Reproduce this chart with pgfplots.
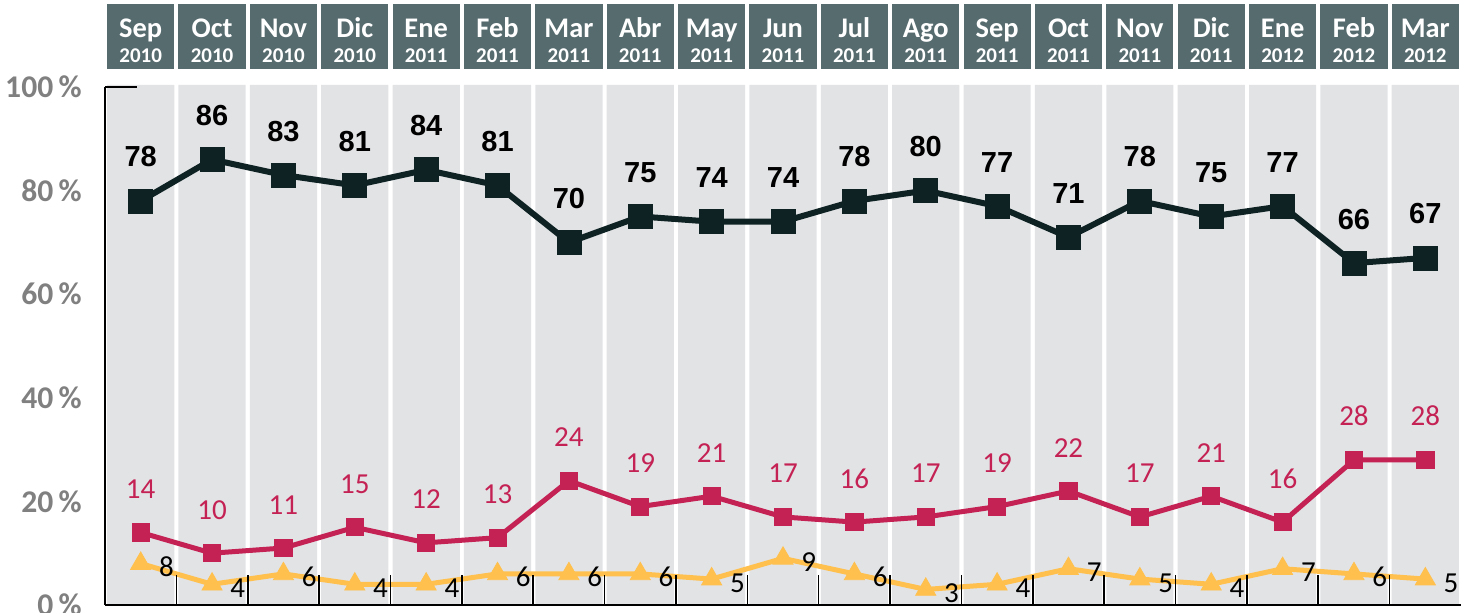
\documentclass[border=0pt]{standalone}
\usepackage{pgfplots}
\pgfplotsset{compat=1.18}
\usepackage{fontspec}
\setmainfont{Carlito}
\newfontfamily\arialf{Liberation Sans}
\definecolor{hdr}{RGB}{86,107,110}
\definecolor{colgray}{RGB}{226,227,229}
\definecolor{blk}{RGB}{14,34,36}
\definecolor{crim}{RGB}{196,33,84}
\definecolor{ylw}{RGB}{255,192,77}
\definecolor{tickgray}{RGB}{128,128,128}
\newcommand\hd[2]{\begin{tabular}{@{}c@{}}\rule{0pt}{16.4pt}{\fontsize{14.2pt}{14pt}\selectfont\bfseries #1}\\[0.5pt]{\fontsize{10.5pt}{10.5pt}\selectfont\bfseries #2}\end{tabular}}
\begin{document}
\begin{tikzpicture}
\useasboundingbox (0,0) rectangle (735pt,306.5pt);
\begin{axis}[
  at={(52.5pt,4pt)}, anchor=south west,
  scale only axis, width=678pt, height=259pt,
  xmin=-0.5, xmax=18.5, ymin=0, ymax=100,
  clip=false,
  axis on top,
  axis lines*=left,
  axis line style={black, line width=1.3pt},
  /pgf/number format/assume math mode=true,
  xtick={0,...,18},
  xticklabels={{\hd{Sep}{2010}},{\hd{Oct}{2010}},{\hd{Nov}{2010}},{\hd{Dic}{2010}},{\hd{Ene}{2011}},{\hd{Feb}{2011}},{\hd{Mar}{2011}},{\hd{Abr}{2011}},{\hd{May}{2011}},{\hd{Jun}{2011}},{\hd{Jul}{2011}},{\hd{Ago}{2011}},{\hd{Sep}{2011}},{\hd{Oct}{2011}},{\hd{Nov}{2011}},{\hd{Dic}{2011}},{\hd{Ene}{2012}},{\hd{Feb}{2012}},{\hd{Mar}{2012}}},
  major tick length=0pt,
  minor xtick={0.5,1.5,...,17.5},
  minor tick length=15pt,
  tick align=inside,
  minor tick style={black, line width=0.8pt},
  xticklabel style={anchor=center, yshift=284pt, fill=hdr, text=white, minimum width=33.6pt, minimum height=31pt, inner sep=0pt},
  ytick={0,20,...,100},
  yticklabels={0\,\%,20\,\%,40\,\%,60\,\%,80\,\%,100\,\%},
  yticklabel style={font=\fontsize{15.8pt}{15.8pt}\selectfont\bfseries, text=tickgray, anchor=east, inner sep=0pt, xshift=-11.5pt},
  extra y ticks={100},
  extra y tick labels={},
  extra y tick style={major tick length=16pt, tick style={black, line width=1.2pt}},
]
\addplot[ybar, bar width=33.6pt, fill=colgray, draw=none, forget plot] coordinates {
(0,100.4)(1,100.4)(2,100.4)(3,100.4)(4,100.4)(5,100.4)(6,100.4)(7,100.4)(8,100.4)(9,100.4)
(10,100.4)(11,100.4)(12,100.4)(13,100.4)(14,100.4)(15,100.4)(16,100.4)(17,100.4)(18,100.4)};

\addplot[ylw, line width=2.5pt, mark=triangle*, mark size=5.8pt, mark options={solid, line width=0.4pt},
  nodes near coords,
  every node near coord/.append style={font=\fontsize{14.5pt}{14.5pt}\selectfont, text=black, anchor=base west, inner sep=0pt, xshift=9pt, yshift=-6.5pt}]
coordinates {(0,8)(1,4)(2,6)(3,4)(4,4)(5,6)(6,6)(7,6)(8,5)(9,9)(10,6)(11,3)(12,4)(13,7)(14,5)(15,4)(16,7)(17,6)(18,5)};

\addplot[crim, line width=2.5pt, mark=square*, mark size=4.3pt, mark options={solid, line width=0.4pt},
  nodes near coords,
  every node near coord/.append style={font=\fontsize{14.5pt}{14.5pt}\selectfont, text=crim, anchor=base, inner sep=0pt, yshift=17pt}]
coordinates {(0,14)(1,10)(2,11)(3,15)(4,12)(5,13)(6,24)(7,19)(8,21)(9,17)(10,16)(11,17)(12,19)(13,22)(14,17)(15,21)(16,16)(17,28)(18,28)};

\addplot[blk, line width=3pt, mark=square*, mark size=6pt, mark options={solid, line width=0.4pt},
  nodes near coords,
  every node near coord/.append style={font=\fontsize{14.5pt}{14.5pt}\selectfont\arialf\bfseries, text=black, anchor=base, inner sep=0pt, yshift=17pt}]
coordinates {(0,78)(1,86)(2,83)(3,81)(4,84)(5,81)(6,70)(7,75)(8,74)(9,74)(10,78)(11,80)(12,77)(13,71)(14,78)(15,75)(16,77)(17,66)(18,67)};
\end{axis}
\end{tikzpicture}
\end{document}
